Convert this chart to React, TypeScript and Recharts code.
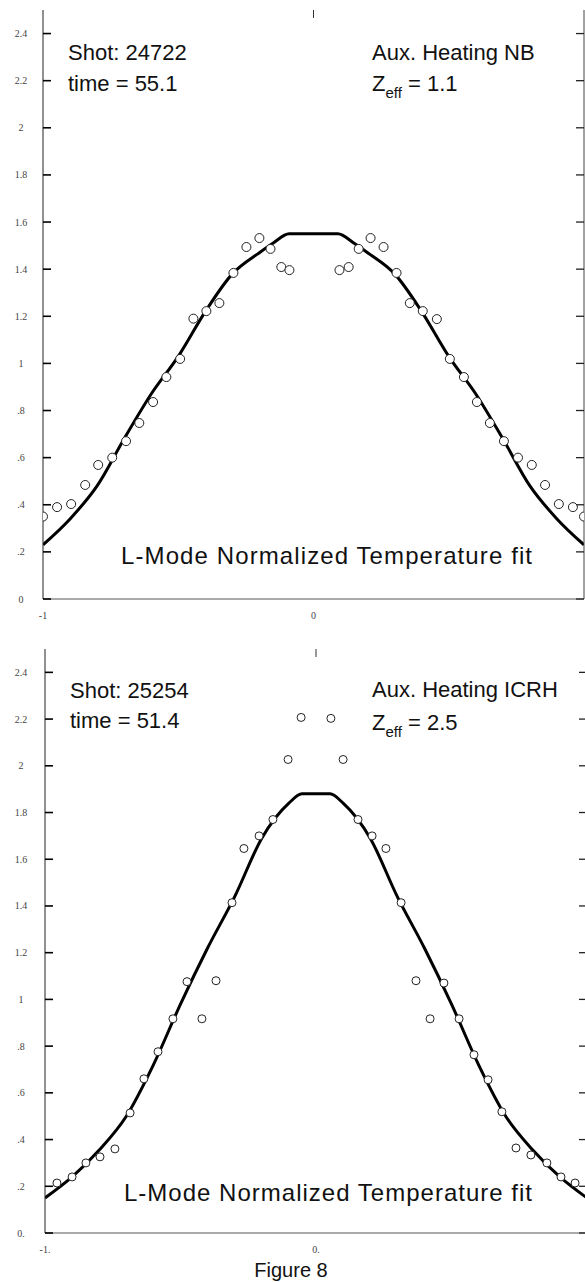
import { ComposedChart, Line, Scatter, XAxis, YAxis } from 'recharts';

// y axis (same for both panels)
const yTicks = [0, 0.2, 0.4, 0.6, 0.8, 1, 1.2, 1.4, 1.6, 1.8, 2, 2.2, 2.4];
const yLabelsTop = ['0', '.2', '.4', '.6', '.8', '1', '1.2', '1.4', '1.6', '1.8', '2', '2.2', '2.4'];
const yLabelsBottom = ['0.', '.2', '.4', '.6', '.8', '1', '1.2', '1.4', '1.6', '1.8', '2', '2.2', '2.4'];
const xTicks = [-1, 0];
const xLabelsTop = ['-1', '0'];
const xLabelsBottom = ['-1.', '0.'];

// shot 24722 (NB)
const fitXTop = [-1, -0.9, -0.8, -0.7, -0.6, -0.5, -0.4, -0.3, -0.2, -0.15, -0.09, 0.09, 0.15, 0.2, 0.3, 0.4, 0.5, 0.6, 0.7, 0.8, 0.9, 1];
const fitYTop = [0.23, 0.34, 0.48, 0.68, 0.87, 1.03, 1.22, 1.38, 1.47, 1.51, 1.55, 1.55, 1.51, 1.47, 1.38, 1.22, 1.03, 0.87, 0.68, 0.48, 0.34, 0.23];
const measXTop = [
  -1, -0.948, -0.896, -0.844, -0.796, -0.744, -0.693, -0.644, -0.593, -0.544, -0.493, -0.444, -0.396, -0.348, -0.296,
  -0.248, -0.2, -0.159, -0.119, -0.089, 0.096, 0.13, 0.167, 0.211, 0.259, 0.307, 0.356, 0.404, 0.456, 0.504, 0.556,
  0.604, 0.652, 0.704, 0.756, 0.807, 0.856, 0.907, 0.959, 1,
];
const measYTop = [
  0.35, 0.39, 0.403, 0.484, 0.569, 0.6, 0.67, 0.747, 0.836, 0.942, 1.019, 1.19, 1.222, 1.256, 1.384,
  1.494, 1.532, 1.486, 1.409, 1.396, 1.396, 1.409, 1.486, 1.532, 1.494, 1.384, 1.256, 1.222, 1.188, 1.019, 0.942,
  0.836, 0.747, 0.67, 0.6, 0.569, 0.484, 0.403, 0.39, 0.35,
];

// shot 25254 (ICRH)
const fitXBottom = [-1, -0.9, -0.8, -0.7, -0.6, -0.5, -0.4, -0.3, -0.2, -0.1, -0.052, 0.052, 0.1, 0.2, 0.3, 0.4, 0.5, 0.6, 0.7, 0.8, 0.9, 1];
const fitYBottom = [0.15, 0.24, 0.355, 0.5, 0.72, 0.98, 1.22, 1.44, 1.69, 1.84, 1.88, 1.88, 1.84, 1.69, 1.44, 1.22, 0.98, 0.72, 0.5, 0.355, 0.24, 0.15];
const measXBottom = [
  -0.956, -0.9, -0.849, -0.797, -0.742, -0.686, -0.635, -0.583, -0.528, -0.476, -0.421, -0.369, -0.31, -0.266, -0.21,
  -0.159, -0.103, -0.055, 0.055, 0.1, 0.155, 0.207, 0.258, 0.314, 0.369, 0.421, 0.472, 0.528, 0.583, 0.635, 0.686,
  0.738, 0.793, 0.852, 0.904, 0.956,
];
const measYBottom = [
  0.214, 0.24, 0.3, 0.326, 0.36, 0.514, 0.66, 0.776, 0.917, 1.076, 0.917, 1.08, 1.414, 1.646, 1.7,
  1.77, 2.027, 2.207, 2.203, 2.027, 1.77, 1.7, 1.646, 1.414, 1.08, 0.917, 1.07, 0.917, 0.763, 0.656, 0.519,
  0.364, 0.334, 0.3, 0.24, 0.214,
];

const zip = (xs: number[], ys: number[]) => xs.map((x, i) => ({ x, y: ys[i] }));

const tickFont = { fontFamily: '"Liberation Serif", serif', fontSize: 10, fill: '#444' };
const textFont = '"Liberation Sans", Arial, sans-serif';
const TICK = 8;

type PanelProps = {
  top: number;
  width: number;
  height: number;
  marginTop: number;
  marginRight: number;
  leftWidth: number;
  xAxisHeight: number;
  fit: { x: number; y: number }[];
  meas: { x: number; y: number }[];
  yLabels: string[];
  xLabels: string[];
  r: number;
};

const Panel = (p: PanelProps) => {
  const plotRight = p.width - p.marginRight - 1;
  return (
    <div style={{ position: 'absolute', left: 0, top: p.top }}>
      <ComposedChart
        width={p.width}
        height={p.height}
        margin={{ top: p.marginTop, right: p.marginRight, bottom: 0, left: 0 }}
      >
        <XAxis
          xAxisId="b"
          dataKey="x"
          type="number"
          domain={[-1, 1]}
          allowDataOverflow
          ticks={xTicks}
          tickLine={false}
          height={p.xAxisHeight}
          axisLine={{ stroke: '#555' }}
          tick={(t: any) => (
            <g>
              {t.payload.value === 0 && (
                <line x1={t.x} x2={t.x} y1={p.marginTop} y2={p.marginTop + TICK} stroke="#333" />
              )}
              <text x={t.x} y={t.y} dy={12} textAnchor="middle" {...tickFont}>
                {p.xLabels[t.index]}
              </text>
            </g>
          )}
        />
        <XAxis
          xAxisId="t"
          orientation="top"
          type="number"
          domain={[-1, 1]}
          allowDataOverflow
          tick={false}
          tickLine={false}
          height={0}
          axisLine={{ stroke: '#444' }}
        />
        <YAxis
          yAxisId="l"
          dataKey="y"
          type="number"
          domain={[0, 2.5]}
          allowDataOverflow
          ticks={yTicks}
          width={p.leftWidth}
          tickLine={false}
          axisLine={{ stroke: '#222' }}
          tick={(t: any) => (
            <g>
              <line x1={p.leftWidth} x2={p.leftWidth + TICK} y1={t.y} y2={t.y} stroke="#000" strokeWidth={1.6} />
              <text x={21} y={t.y} dy={3.5} textAnchor="middle" {...tickFont}>
                {p.yLabels[t.index]}
              </text>
            </g>
          )}
        />
        <YAxis
          yAxisId="r"
          orientation="right"
          type="number"
          domain={[0, 2.5]}
          allowDataOverflow
          ticks={yTicks}
          tickLine={false}
          width={1}
          axisLine={{ stroke: '#444' }}
          tick={(t: any) => (
            <line x1={plotRight - TICK} x2={plotRight} y1={t.y} y2={t.y} stroke="#222" strokeWidth={1.3} />
          )}
        />
        <Line
          xAxisId="b"
          yAxisId="l"
          data={p.fit}
          dataKey="y"
          type="monotone"
          stroke="#000"
          strokeWidth={3}
          dot={false}
          isAnimationActive={false}
        />
        <Scatter
          xAxisId="b"
          yAxisId="l"
          data={p.meas}
          dataKey="y"
          isAnimationActive={false}
          shape={(s: any) => <circle cx={s.cx} cy={s.cy} r={p.r} fill="#fff" stroke="#222" strokeWidth={1} />}
        />
      </ComposedChart>
    </div>
  );
};

const App = () => (
  <div style={{ position: 'absolute', left: 0, top: 0, width: 585, height: 1282, overflow: 'hidden', background: '#fff' }}>
    <Panel
      top={0}
      width={585}
      height={630}
      marginTop={10}
      marginRight={0}
      leftWidth={43}
      xAxisHeight={31}
      fit={zip(fitXTop, fitYTop)}
      meas={zip(measXTop, measYTop)}
      yLabels={yLabelsTop}
      xLabels={xLabelsTop}
      r={4.5}
    />
    <Panel
      top={640}
      width={590}
      height={642}
      marginTop={9}
      marginRight={2}
      leftWidth={45}
      xAxisHeight={49}
      fit={zip(fitXBottom, fitYBottom)}
      meas={zip(measXBottom, measYBottom)}
      yLabels={yLabelsBottom}
      xLabels={xLabelsBottom}
      r={4}
    />
    <svg
      width={585}
      height={1282}
      style={{ position: 'absolute', left: 0, top: 0, pointerEvents: 'none' }}
      fontFamily={textFont}
      fill="#111"
    >
      <text x={68} y={60} fontSize={22}>Shot: 24722</text>
      <text x={68} y={91} fontSize={22}>time = 55.1</text>
      <text x={372} y={60} fontSize={22}>Aux. Heating NB</text>
      <text x={372} y={91} fontSize={22}>
        Z<tspan fontSize={15} dy={7}>eff</tspan>
        <tspan dy={-7}>{' = 1.1'}</tspan>
      </text>
      <text x={121} y={564} fontSize={24} textLength={411}>L-Mode Normalized Temperature fit</text>

      <text x={70} y={698} fontSize={22}>Shot: 25254</text>
      <text x={70} y={728} fontSize={22}>time = 51.4</text>
      <text x={372} y={697} fontSize={22}>Aux. Heating ICRH</text>
      <text x={372} y={730} fontSize={22}>
        Z<tspan fontSize={15} dy={7}>eff</tspan>
        <tspan dy={-7}>{' = 2.5'}</tspan>
      </text>
      <text x={124} y={1201} fontSize={24} textLength={408}>L-Mode Normalized Temperature fit</text>

      <text x={291} y={1277} fontSize={20} textAnchor="middle">Figure 8</text>
    </svg>
  </div>
);

export default App;
